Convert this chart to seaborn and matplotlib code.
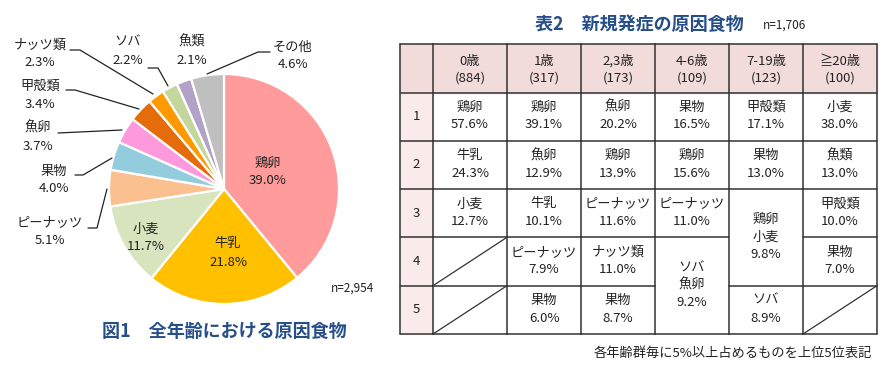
import numpy as np
import matplotlib
matplotlib.use("Agg")
import matplotlib.pyplot as plt
import seaborn as sns
from matplotlib.patches import Rectangle

sns.set_style("white")
plt.rcParams['font.family'] = ['Noto Sans CJK JP', 'DejaVu Sans']

# pie data (figure 1)
foods = ['鶏卵', '牛乳', '小麦', 'ピーナッツ', '果物', '魚卵', '甲殻類', 'ナッツ類', 'ソバ', '魚類', 'その他']
shares = [39.0, 21.8, 11.7, 5.1, 4.0, 3.7, 3.4, 2.3, 2.2, 2.1, 4.6]
pie_colors = ['#FF9B9B', '#FFC000', '#D7E4BD', '#FAC090', '#93CDDD', '#FF99DD',
              '#E46C0A', '#FF9900', '#C3D69B', '#B3A2C7', '#BFBFBF']
pie_n = '2,954'

# table data (table 2)
ages = ['0歳', '1歳', '2,3歳', '4-6歳', '7-19歳', '≧20歳']
age_n = [884, 317, 173, 109, 123, 100]
ranks = [1, 2, 3, 4, 5]
# each entry: (foods tied at this rank, percent)
top_0 = [(['鶏卵'], 57.6), (['牛乳'], 24.3), (['小麦'], 12.7)]
top_1 = [(['鶏卵'], 39.1), (['魚卵'], 12.9), (['牛乳'], 10.1), (['ピーナッツ'], 7.9), (['果物'], 6.0)]
top_2 = [(['魚卵'], 20.2), (['鶏卵'], 13.9), (['ピーナッツ'], 11.6), (['ナッツ類'], 11.0), (['果物'], 8.7)]
top_3 = [(['果物'], 16.5), (['鶏卵'], 15.6), (['ピーナッツ'], 11.0), (['ソバ', '魚卵'], 9.2)]
top_4 = [(['甲殻類'], 17.1), (['果物'], 13.0), (['鶏卵', '小麦'], 9.8), (['ソバ'], 8.9)]
top_5 = [(['小麦'], 38.0), (['魚類'], 13.0), (['甲殻類'], 10.0), (['果物'], 7.0)]
table_n = '1,706'

W, H = 890, 370
fig = plt.figure(figsize=(W / 100, H / 100), dpi=100)

# ---- pie ----
cx, cy, r = 224, 189, 115
axp = fig.add_axes([(cx - r) / W, (H - cy - r) / H, 2 * r / W, 2 * r / H])
axp.pie(shares, colors=pie_colors, startangle=90, counterclock=False,
        wedgeprops=dict(edgecolor='white', linewidth=1.6))
axp.set_xlim(-1, 1)
axp.set_ylim(-1, 1)
axp.axis('off')

# pixel-space axes on top for texts, leader lines and the table
ax = fig.add_axes([0, 0, 1, 1])
ax.set_zorder(3)
ax.set_xlim(0, W)
ax.set_ylim(H, 0)
ax.axis('off')

txt = '#222222'
fs = 9.5

# labels inside the big slices
inside = {'鶏卵': (268, 172), '牛乳': (228, 253), '小麦': (146, 238)}
for name, (x, y) in inside.items():
    v = shares[foods.index(name)]
    ax.text(x, y - 9, name, ha='center', va='center', fontsize=fs, color=txt)
    ax.text(x, y + 9, f'{v:.1f}%', ha='center', va='center', fontsize=fs, color=txt)

# outside labels: text position and leader line
outside = {
    'ピーナッツ': ((50, 232), [(88, 228), (97, 228), (107, 189)]),
    '果物': ((54, 180), [(75, 175), (83, 175), (112, 158)]),
    '魚卵': ((38, 137), [(58, 133), (122, 130)]),
    '甲殻類': ((40, 95), [(66, 90), (75, 90), (139, 109)]),
    'ナッツ類': ((40, 54), [(70, 50), (80, 50), (153, 94)]),
    'ソバ': ((128, 51), [(148, 68), (158, 68), (168, 86)]),
    '魚類': ((192, 51), None),
    'その他': ((293, 56), [(270, 52), (258, 52), (207, 74)]),
}
for name, ((x, y), line) in outside.items():
    v = shares[foods.index(name)]
    ax.text(x, y - 9, name, ha='center', va='center', fontsize=fs, color=txt)
    ax.text(x, y + 9, f'{v:.1f}%', ha='center', va='center', fontsize=fs, color=txt)
    if line:
        xs, ys = zip(*line)
        ax.plot(xs, ys, color='#222222', lw=0.9)

ax.text(353, 288, f'n={pie_n}', ha='center', va='center', fontsize=8.5, color=txt)
ax.text(224, 331, '図1　全年齢における原因食物', ha='center', va='center',
        fontsize=13, fontweight='bold', color='#264F8A')

# ---- table ----
x_edges = [400, 433, 507, 581, 655, 729, 803, 877]
y_edges = [44, 92.5, 140.7, 189, 237.3, 285.7, 334]
head_col, num_col = '#F2DCDB', '#FAEBEB'

ax.text(639, 25, '表2　新規発症の原因食物', ha='center', va='center',
        fontsize=13, fontweight='bold', color='#264F8A')
ax.text(785, 25, f'n={table_n}', ha='center', va='center', fontsize=8.5, color=txt)

# backgrounds
ax.add_patch(Rectangle((x_edges[0], y_edges[0]), x_edges[-1] - x_edges[0],
                       y_edges[1] - y_edges[0], color=head_col, zorder=1))
ax.add_patch(Rectangle((x_edges[0], y_edges[1]), x_edges[1] - x_edges[0],
                       y_edges[-1] - y_edges[1], color=num_col, zorder=1))

# header
for j, (a, n) in enumerate(zip(ages, age_n)):
    xc = (x_edges[j + 1] + x_edges[j + 2]) / 2
    yc = (y_edges[0] + y_edges[1]) / 2
    ax.text(xc, yc - 7, a, ha='center', va='center', fontsize=fs, color=txt)
    ax.text(xc, yc + 10, f'({n})', ha='center', va='center', fontsize=fs, color=txt)

for i, rk in enumerate(ranks):
    yc = (y_edges[i + 1] + y_edges[i + 2]) / 2
    ax.text((x_edges[0] + x_edges[1]) / 2, yc, str(rk), ha='center', va='center',
            fontsize=fs, color=txt)

lc, lw = '#333333', 1.1
# vertical lines
for x in x_edges:
    ax.plot([x, x], [y_edges[0], y_edges[-1]], color=lc, lw=lw, zorder=3)
# cell texts, diagonals for empty cells, merged cells
skip = set()
columns = [top_0, top_1, top_2, top_3, top_4, top_5]
for j, col in enumerate(columns):
    row = 0
    xl, xr = x_edges[j + 1], x_edges[j + 2]
    for names, pct in col:
        span = len(names)
        y0, y1 = y_edges[row + 1], y_edges[row + 1 + span]
        yc = (y0 + y1) / 2
        lines = names + [f'{pct:.1f}%']
        step = 17.5
        for k, s in enumerate(lines):
            ax.text((xl + xr) / 2, yc + (k - (len(lines) - 1) / 2) * step - 0.5, s,
                    ha='center', va='center', fontsize=fs, color=txt)
        for m in range(1, span):
            skip.add((j, row + 1 + m))
        row += span
    for rr in range(row, len(ranks)):
        ax.plot([xl, xr], [y_edges[rr + 2], y_edges[rr + 1]], color=lc, lw=0.9, zorder=3)

# horizontal lines (skipped where cells are merged)
for k, y in enumerate(y_edges):
    for j in range(-1, len(ages)):
        if (j, k) in skip:
            continue
        ax.plot([x_edges[j + 1], x_edges[j + 2]], [y, y], color=lc, lw=lw, zorder=3)

ax.text(872, 353, '各年齢群毎に5%以上占めるものを上位5位表記', ha='right', va='center',
        fontsize=9.5, color=txt)

fig.savefig('out.png', dpi=100)
